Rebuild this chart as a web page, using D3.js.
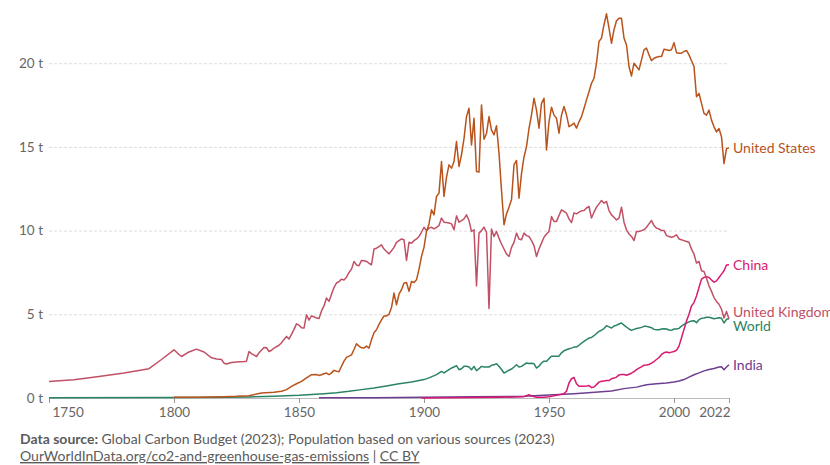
<!DOCTYPE html>
<html>
<head>
<meta charset="utf-8">
<script src="https://cdn.jsdelivr.net/npm/d3@7"></script>
<style>
  body { margin: 0; background: #fff; }
  text { font-family: Lato, "Noto Sans", sans-serif; }
</style>
</head>
<body>
<div id="chart"></div>
<script>
// CO2 emissions per capita (tonnes), [year, value]
var unitedStates = [[1800,0.04],[1810,0.05],[1820,0.08],[1825,0.1],[1830,0.14],[1835,0.3],[1840,0.35],[1843,0.4],[1845,0.5],[1847,0.69],[1849,0.85],[1851,0.99],[1853,1.2],[1855,1.39],[1857,1.4],[1858,1.35],[1859,1.39],[1860,1.45],[1861,1.49],[1862,1.39],[1863,1.5],[1864,1.65],[1865,1.6],[1866,1.57],[1867,1.9],[1868,2.2],[1869,2.43],[1870,2.5],[1871,2.58],[1872,2.9],[1873,3.24],[1874,3.1],[1875,3.0],[1876,2.98],[1877,3.1],[1878,2.98],[1879,3.48],[1880,3.9],[1881,4.08],[1882,4.4],[1883,4.67],[1884,4.9],[1885,4.9],[1886,5.0],[1887,5.4],[1888,6.27],[1889,5.57],[1890,6.2],[1891,6.47],[1892,6.87],[1893,6.9],[1894,6.37],[1895,6.96],[1896,6.9],[1897,7.06],[1898,7.7],[1899,8.45],[1900,9.0],[1901,9.95],[1902,10.4],[1903,11.24],[1904,10.94],[1905,12.04],[1906,12.24],[1907,14.13],[1908,12.04],[1909,13.2],[1910,13.93],[1911,13.73],[1912,14.13],[1913,15.32],[1914,13.83],[1915,14.53],[1916,15.5],[1917,16.81],[1918,17.31],[1919,15.12],[1920,16.71],[1921,13.53],[1922,13.5],[1923,17.51],[1924,15.46],[1925,15.8],[1926,16.81],[1927,16.0],[1928,15.72],[1929,16.26],[1930,14.63],[1931,12.4],[1932,10.35],[1933,11.0],[1934,11.4],[1935,11.84],[1936,13.93],[1937,14.19],[1938,11.94],[1939,13.4],[1940,14.4],[1941,15.02],[1942,16.1],[1943,16.91],[1944,17.91],[1945,17.2],[1946,16.12],[1947,17.6],[1948,17.91],[1949,14.82],[1950,16.5],[1951,17.37],[1952,16.9],[1953,16.71],[1954,15.82],[1955,16.9],[1956,17.41],[1957,16.91],[1958,16.21],[1959,16.3],[1960,16.42],[1961,16.12],[1962,16.5],[1963,16.81],[1964,17.3],[1965,17.81],[1966,18.3],[1967,18.8],[1968,19.1],[1969,20.0],[1970,21.3],[1971,21.5],[1972,22.3],[1973,22.95],[1974,22.1],[1975,21.19],[1976,22.0],[1977,22.54],[1978,22.68],[1979,22.68],[1980,21.5],[1981,21.09],[1982,19.8],[1983,19.24],[1984,20.0],[1985,19.8],[1986,19.6],[1987,20.2],[1988,20.8],[1989,20.9],[1990,20.5],[1991,20.15],[1992,20.3],[1993,20.36],[1994,20.4],[1995,20.4],[1996,20.84],[1997,20.8],[1998,20.76],[1999,20.8],[2000,21.23],[2001,20.63],[2002,20.6],[2003,20.6],[2004,20.7],[2005,20.76],[2006,20.5],[2007,20.15],[2008,19.8],[2009,18.0],[2010,18.2],[2011,17.6],[2012,17.0],[2013,16.9],[2014,17.2],[2015,16.6],[2016,16.2],[2017,15.9],[2018,16.1],[2019,15.6],[2020,14.0],[2021,14.9],[2022,14.95]];

var unitedKingdom = [[1750,0.99],[1760,1.09],[1770,1.28],[1780,1.49],[1790,1.75],[1795,2.3],[1800,2.88],[1802,2.6],[1803,2.48],[1806,2.75],[1809,2.92],[1812,2.75],[1815,2.4],[1817,2.33],[1819,2.3],[1820,2.08],[1821,2.03],[1823,2.12],[1825,2.15],[1828,2.18],[1829,2.2],[1830,2.78],[1831,2.65],[1833,2.48],[1834,2.7],[1836,3.02],[1837,3.0],[1838,2.78],[1839,2.85],[1840,2.98],[1842,3.15],[1843,3.3],[1844,3.5],[1845,3.68],[1846,3.52],[1847,3.8],[1848,4.1],[1849,4.43],[1850,4.35],[1851,4.2],[1852,4.18],[1853,4.97],[1854,4.65],[1855,4.9],[1856,4.85],[1857,4.78],[1858,4.75],[1859,5.2],[1860,5.5],[1861,5.97],[1862,5.77],[1863,6.2],[1864,6.6],[1865,6.87],[1866,6.95],[1867,7.1],[1868,7.05],[1869,7.22],[1870,7.5],[1871,7.7],[1872,8.16],[1873,7.95],[1874,7.9],[1875,8.22],[1876,8.2],[1877,8.16],[1878,8.05],[1879,7.96],[1880,8.9],[1881,8.95],[1882,9.05],[1883,9.15],[1884,8.9],[1885,8.75],[1886,8.61],[1887,8.8],[1888,9.0],[1889,9.3],[1890,9.4],[1891,9.5],[1892,9.45],[1893,8.22],[1894,9.3],[1895,9.25],[1896,9.4],[1897,9.5],[1898,9.65],[1899,9.9],[1900,10.2],[1901,10.0],[1902,10.15],[1903,10.2],[1904,10.1],[1905,10.2],[1906,10.3],[1907,10.75],[1908,10.5],[1909,10.48],[1910,10.45],[1911,10.4],[1912,10.05],[1913,10.88],[1914,10.5],[1915,10.6],[1916,10.7],[1917,10.94],[1918,10.6],[1919,9.95],[1920,10.05],[1921,6.7],[1922,9.85],[1923,10.0],[1924,10.21],[1925,9.9],[1926,5.35],[1927,10.1],[1928,9.65],[1929,9.95],[1930,9.55],[1931,9.2],[1932,8.9],[1933,8.6],[1934,8.45],[1935,9.0],[1936,9.3],[1937,9.85],[1938,9.5],[1939,9.45],[1940,9.85],[1941,9.7],[1942,9.65],[1943,9.4],[1944,9.1],[1945,8.45],[1946,8.9],[1947,9.25],[1948,9.6],[1949,9.8],[1950,9.95],[1951,10.84],[1952,10.55],[1953,10.55],[1954,10.9],[1955,11.24],[1956,11.15],[1957,11.04],[1958,10.7],[1959,10.48],[1960,11.06],[1961,11.0],[1962,11.1],[1963,11.18],[1964,11.2],[1965,11.35],[1966,11.44],[1967,10.75],[1968,11.1],[1969,11.4],[1970,11.6],[1971,11.8],[1972,11.64],[1973,11.74],[1974,11.2],[1975,10.94],[1976,10.8],[1977,10.64],[1978,10.75],[1979,11.4],[1980,10.5],[1981,10.05],[1982,9.8],[1983,9.65],[1984,9.41],[1985,9.95],[1986,9.95],[1987,10.0],[1988,10.05],[1989,10.2],[1990,10.4],[1991,10.6],[1992,10.3],[1993,10.15],[1994,10.1],[1995,10.0],[1996,10.01],[1997,9.7],[1998,9.65],[1999,9.6],[2000,9.65],[2001,9.75],[2002,9.5],[2003,9.45],[2004,9.4],[2005,9.35],[2006,9.3],[2007,8.89],[2008,8.6],[2009,8.06],[2010,8.16],[2011,7.6],[2012,7.56],[2013,7.16],[2014,6.7],[2015,6.37],[2016,6.0],[2017,5.77],[2018,5.6],[2019,5.3],[2020,4.78],[2021,5.17],[2022,4.72]];

var china = [[1899,0.0],[1910,0.02],[1920,0.03],[1930,0.04],[1936,0.06],[1940,0.08],[1942,0.2],[1943,0.12],[1945,0.05],[1948,0.04],[1950,0.08],[1952,0.13],[1954,0.2],[1956,0.26],[1957,0.4],[1958,0.9],[1959,1.15],[1960,1.23],[1961,0.85],[1962,0.7],[1963,0.7],[1964,0.7],[1965,0.72],[1966,0.75],[1967,0.62],[1968,0.66],[1969,0.8],[1970,0.95],[1971,1.0],[1972,1.02],[1973,1.04],[1974,1.04],[1975,1.15],[1976,1.19],[1977,1.25],[1978,1.38],[1979,1.4],[1980,1.4],[1981,1.36],[1982,1.42],[1983,1.48],[1984,1.58],[1985,1.7],[1986,1.78],[1987,1.86],[1988,1.96],[1989,1.97],[1990,2.0],[1991,2.08],[1992,2.18],[1993,2.3],[1994,2.42],[1995,2.6],[1996,2.7],[1997,2.75],[1998,2.7],[1999,2.74],[2000,2.78],[2001,2.85],[2002,3.1],[2003,3.6],[2004,4.1],[2005,4.6],[2006,5.0],[2007,5.5],[2008,5.7],[2009,6.1],[2010,6.6],[2011,7.1],[2012,7.2],[2013,7.25],[2014,7.2],[2015,7.05],[2016,6.92],[2017,7.0],[2018,7.2],[2019,7.4],[2020,7.6],[2021,7.95],[2022,7.96]];

var world = [[1750,0.01],[1800,0.03],[1820,0.04],[1830,0.06],[1840,0.1],[1850,0.16],[1860,0.26],[1865,0.32],[1870,0.4],[1875,0.5],[1880,0.6],[1885,0.72],[1890,0.85],[1895,0.95],[1900,1.1],[1902,1.2],[1905,1.4],[1907,1.59],[1908,1.5],[1910,1.7],[1911,1.79],[1912,1.85],[1913,1.93],[1914,1.69],[1915,1.75],[1916,1.89],[1917,1.9],[1918,1.85],[1919,1.69],[1920,1.89],[1921,1.63],[1922,1.75],[1923,1.89],[1924,1.85],[1925,1.85],[1926,1.85],[1927,1.95],[1928,1.98],[1929,2.05],[1930,1.9],[1931,1.7],[1932,1.49],[1933,1.58],[1934,1.66],[1935,1.73],[1936,1.85],[1937,1.99],[1938,1.85],[1939,1.89],[1940,2.0],[1941,2.09],[1942,2.06],[1943,2.08],[1944,2.05],[1945,1.79],[1946,1.9],[1947,2.09],[1948,2.2],[1949,2.2],[1950,2.35],[1951,2.49],[1952,2.49],[1953,2.5],[1954,2.5],[1955,2.7],[1956,2.82],[1957,2.88],[1958,2.94],[1959,2.98],[1960,3.04],[1961,3.05],[1962,3.15],[1963,3.28],[1964,3.38],[1965,3.48],[1966,3.58],[1967,3.62],[1968,3.72],[1969,3.85],[1970,3.98],[1971,4.05],[1972,4.15],[1973,4.32],[1974,4.25],[1975,4.18],[1976,4.3],[1977,4.35],[1978,4.42],[1979,4.48],[1980,4.35],[1981,4.24],[1982,4.12],[1983,4.04],[1984,4.1],[1985,4.15],[1986,4.18],[1987,4.22],[1988,4.28],[1989,4.28],[1990,4.24],[1991,4.2],[1992,4.1],[1993,4.08],[1994,4.08],[1995,4.12],[1996,4.14],[1997,4.12],[1998,4.06],[1999,4.04],[2000,4.12],[2001,4.12],[2002,4.16],[2003,4.3],[2004,4.4],[2005,4.48],[2006,4.55],[2007,4.6],[2008,4.62],[2009,4.5],[2010,4.68],[2011,4.76],[2012,4.78],[2013,4.82],[2014,4.82],[2015,4.78],[2016,4.74],[2017,4.76],[2018,4.8],[2019,4.76],[2020,4.48],[2021,4.7],[2022,4.74]];

var india = [[1858,0.01],[1880,0.02],[1900,0.04],[1920,0.07],[1940,0.1],[1950,0.18],[1960,0.26],[1967,0.33],[1975,0.42],[1980,0.56],[1985,0.65],[1989,0.79],[1993,0.85],[1997,0.9],[2000,0.95],[2002,1.02],[2004,1.1],[2006,1.25],[2008,1.39],[2010,1.5],[2012,1.62],[2014,1.7],[2016,1.76],[2018,1.85],[2019,1.87],[2020,1.69],[2021,1.85],[2022,1.99]];

var seriesNames = ["United States", "United Kingdom", "China", "World", "India"];
var seriesColors = ["#b9531c", "#c15065", "#d8196f", "#2a8463", "#6d3e91"];
var labelOrder = ["United States", "China", "United Kingdom", "World", "India"];
var yTicks = [0, 5, 10, 15, 20];
var xTicks = [1750, 1800, 1850, 1900, 1950, 2000, 2022];

var seriesData = [unitedStates, unitedKingdom, china, world, india];

var svgWidth = 830;
var svgHeight = 465;
var margin = { top: 13, right: 101, bottom: 67, left: 49 };
var width = svgWidth - margin.left - margin.right;
var height = svgHeight - margin.top - margin.bottom;

var svg = d3.select("#chart")
  .append("svg")
  .attr("width", svgWidth)
  .attr("height", svgHeight);

svg.append("rect").attr("width", svgWidth).attr("height", svgHeight).attr("fill", "#fff");

var chartGroup = svg.append("g")
  .attr("transform", `translate(${margin.left}, ${margin.top})`);

var x = d3.scaleLinear().domain([1750, 2022]).range([0, width]);
var y = d3.scaleLinear().domain([0, 23]).range([height, 0]);

// gridlines + y labels
var yAxis = d3.axisLeft(y)
  .tickValues(yTicks)
  .tickSize(-width)
  .tickPadding(6)
  .tickFormat(d => d + " t");

var yG = chartGroup.append("g").call(yAxis);
yG.select(".domain").remove();
yG.selectAll(".tick line")
  .attr("stroke", d => d === 0 ? "#bbb" : "#ddd")
  .attr("stroke-dasharray", d => d === 0 ? null : "3,2");
yG.selectAll(".tick text")
  .attr("fill", "#666")
  .attr("font-size", "13.5px")
  .attr("font-family", "Lato, sans-serif");

// x axis
var xAxis = d3.axisBottom(x)
  .tickValues(xTicks)
  .tickSize(5)
  .tickPadding(4)
  .tickFormat(d3.format("d"));

var xG = chartGroup.append("g")
  .attr("transform", `translate(0, ${height})`)
  .call(xAxis);
xG.select(".domain").remove();
xG.selectAll(".tick line").attr("stroke", "#999");
xG.selectAll(".tick text")
  .attr("fill", "#666")
  .attr("font-size", "13.5px")
  .attr("font-family", "Lato, sans-serif")
  .attr("text-anchor", d => d === 1750 ? "start" : d === 2022 ? "end" : "middle")
  .attr("dx", d => d === 1750 ? "3" : d === 2022 ? "1" : "0");

// lines
var line = d3.line()
  .x(d => x(d[0]))
  .y(d => y(d[1]));

var drawOrder = [3, 4, 2, 1, 0];
drawOrder.forEach(function(i) {
  chartGroup.append("path")
    .datum(seriesData[i])
    .attr("fill", "none")
    .attr("stroke", seriesColors[i])
    .attr("stroke-width", 1.5)
    .attr("stroke-linejoin", "round")
    .attr("d", line);
});

// end labels, stacked top-down in legend order, pushed apart when they collide
var labels = labelOrder.map(function(name) {
  var i = seriesNames.indexOf(name);
  var last = seriesData[i][seriesData[i].length - 1];
  return { name: name, color: seriesColors[i], y: y(last[1]) };
});
var gap = 14;
for (var k = 1; k < labels.length; k++) {
  if (labels[k].y - labels[k - 1].y < gap) {
    var mid = (labels[k].y + labels[k - 1].y) / 2;
    labels[k - 1].y = mid - gap / 2;
    labels[k].y = mid + gap / 2;
  }
}

chartGroup.selectAll(".series-label")
  .data(labels)
  .enter()
  .append("text")
  .attr("class", "series-label")
  .attr("x", width + 4)
  .attr("y", d => d.y)
  .attr("dy", "0.35em")
  .attr("fill", d => d.color)
  .attr("font-size", "14px")
  .text(d => d.name);

// footer
var foot1 = svg.append("text")
  .attr("x", 20)
  .attr("y", 444)
  .attr("font-size", "14px")
  .attr("fill", "#5b5b5b");
foot1.append("tspan").attr("font-weight", "bold").text("Data source: ");
foot1.append("tspan").text("Global Carbon Budget (2023); Population based on various sources (2023)");

var foot2 = svg.append("text")
  .attr("x", 20)
  .attr("y", 461)
  .attr("font-size", "14px")
  .attr("fill", "#5b5b5b");
foot2.append("tspan").attr("text-decoration", "underline").text("OurWorldInData.org/co2-and-greenhouse-gas-emissions");
foot2.append("tspan").text(" | ");
foot2.append("tspan").attr("text-decoration", "underline").text("CC BY");
</script>
</body>
</html>
